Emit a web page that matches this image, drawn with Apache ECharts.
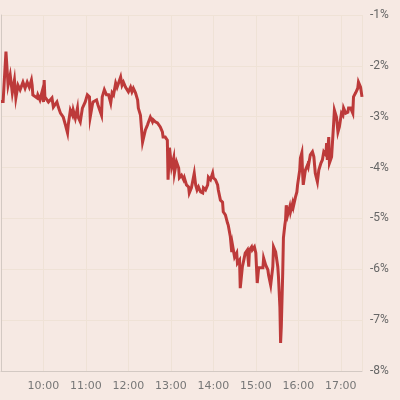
<!DOCTYPE html>
<html>
<head>
<meta charset="utf-8">
<script src="https://cdn.jsdelivr.net/npm/echarts@6/dist/echarts.min.js"></script>
<style>
html,body{margin:0;padding:0;background:#f6e9e3;}
#c{width:400px;height:400px;}
</style>
</head>
<body>
<div id="c"></div>
<script>
// minutes since 09:00
var minutes = [0,3,7,10,13,16,19,21,24,27,31,34,37,40,43,44,45,51,52,55,58,60,61,62,67,72,74,79,81,84,88,91,94,95,98,101,102,105,108,109,112,115,119,122,125,126,129,130,135,137,142,143,146,149,152,155,157,159,162,164,166,169,171,173,176,178,180,183,185,187,190,193,194,197,200,201,204,207,208,211,214,215,218,221,222,225,228,229,232,235,236,238,241,244,245,248,251,252,255,258,259,262,265,266,269,270,273,275,277,279,282,285,286,289,292,293,296,299,300,303,306,307,310,313,314,317,320,321,324,326,327,330,333,334,337,338,341,343,345,348,350,351,354,355,358,360,362,364,367,370,371,374,377,378,381,384,385,388,391,392,394,395,396,398,399,401,402,403,405,408,409,412,413,416,418,419,422,423,425,426,427,430,433,434,437,440,442,444,447,449,452,454,456,459,460,461,463,464,467,470,471,474,476,478,481,483,484,487,490,491,494,497,498,501,504,505,508,510];
// percent change
var changes = [-2.70,-2.70,-1.72,-2.38,-2.18,-2.53,-2.28,-2.63,-2.38,-2.47,-2.32,-2.44,-2.32,-2.42,-2.28,-2.38,-2.57,-2.63,-2.57,-2.67,-2.51,-2.71,-2.28,-2.61,-2.71,-2.63,-2.81,-2.71,-2.81,-2.93,-3.01,-3.16,-3.32,-3.16,-2.87,-2.97,-2.87,-3.03,-2.83,-3.01,-3.10,-2.83,-2.71,-2.57,-2.61,-3.01,-2.77,-2.71,-2.67,-2.77,-2.97,-2.61,-2.47,-2.57,-2.57,-2.73,-2.53,-2.57,-2.34,-2.42,-2.34,-2.22,-2.38,-2.32,-2.42,-2.44,-2.51,-2.42,-2.51,-2.44,-2.53,-2.67,-2.83,-2.97,-3.50,-3.48,-3.26,-3.16,-3.12,-3.01,-3.10,-3.06,-3.10,-3.12,-3.12,-3.20,-3.30,-3.40,-3.40,-3.46,-4.24,-3.61,-3.99,-3.81,-4.11,-3.89,-4.01,-4.20,-4.15,-4.24,-4.20,-4.34,-4.38,-4.50,-4.40,-4.38,-4.11,-4.34,-4.44,-4.38,-4.48,-4.50,-4.40,-4.44,-4.34,-4.19,-4.24,-4.11,-4.20,-4.24,-4.34,-4.44,-4.64,-4.68,-4.87,-4.93,-5.09,-5.13,-5.36,-5.66,-5.52,-5.76,-5.68,-5.88,-5.82,-6.37,-5.95,-5.82,-5.68,-5.62,-5.95,-5.62,-5.56,-5.62,-5.56,-5.68,-6.27,-5.97,-5.97,-5.97,-5.78,-5.92,-6.01,-6.11,-6.31,-5.95,-5.56,-5.66,-5.95,-6.15,-6.74,-7.45,-7.13,-6.07,-5.38,-5.13,-5.03,-4.74,-4.93,-4.77,-4.87,-4.70,-4.77,-4.58,-4.48,-4.34,-4.05,-3.81,-3.71,-4.09,-4.34,-4.05,-3.95,-3.99,-3.75,-3.69,-3.79,-4.11,-4.28,-4.05,-3.91,-3.85,-3.69,-3.75,-3.52,-3.85,-3.40,-3.91,-3.79,-3.12,-2.87,-3.01,-3.30,-3.20,-2.93,-2.97,-2.83,-2.93,-2.91,-2.83,-2.83,-2.93,-2.61,-2.53,-2.44,-2.32,-2.42,-2.61];
var hourLabels = ['10:00','11:00','12:00','13:00','14:00','15:00','16:00','17:00'];

var data = minutes.map(function(m,i){return [m, changes[i]];});
var chart = echarts.init(document.getElementById('c'), null, {renderer:'canvas'});
chart.setOption({
  backgroundColor:'#f6e9e3',
  animation:false,
  grid:{left:1,right:38,top:15,bottom:29,containLabel:false},
  xAxis:{
    type:'value',min:0,max:510,interval:60,
    axisLine:{show:true,lineStyle:{color:'#d3c9c3',width:1}},
    axisTick:{show:false},
    splitLine:{show:true,lineStyle:{color:'#efe2d6',width:1}},
    axisLabel:{
      showMinLabel:false,showMaxLabel:false,margin:10,
      color:'#777',fontSize:11,fontFamily:'DejaVu Sans',
      formatter:function(v){var k=v/60-1;return (k>=0&&k<hourLabels.length)?hourLabels[k]:'';}
    }
  },
  yAxis:{
    type:'value',position:'right',min:-8,max:-1,interval:1,
    axisLine:{show:true,lineStyle:{color:'#d3c9c3',width:1}},
    axisTick:{show:false},
    splitLine:{show:true,lineStyle:{color:'#efe2d6',width:1}},
    axisLabel:{margin:8,color:'#666',fontSize:12,fontFamily:'Roboto',
      formatter:function(v){return v+'%';}}
  },
  series:[{
    type:'line',data:data,showSymbol:false,symbol:'none',
    lineStyle:{color:'#bd3a3a',width:3,join:'miter'},
    emphasis:{disabled:true}
  }]
});
</script>
</body>
</html>
